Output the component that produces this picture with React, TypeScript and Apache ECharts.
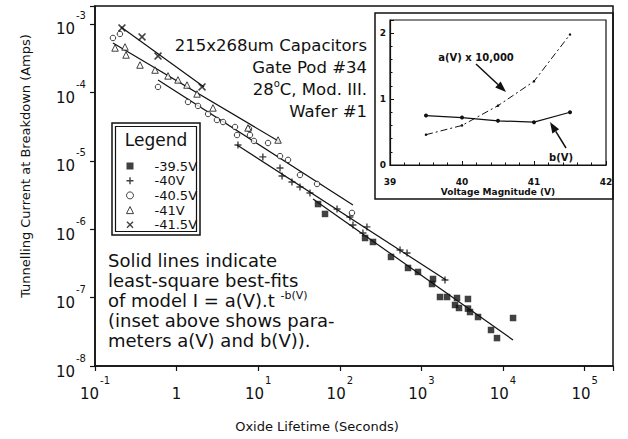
import React, { useEffect, useRef } from "react";
import * as echarts from "echarts";

const FONT = '"DejaVu Sans", "Noto Sans", sans-serif';
const INK = "#111";

type Pt = [number, number];

// Oxide lifetime (s) vs. tunnelling current at breakdown (A), one list per gate voltage
const pts395: Pt[] = [
  [54.1, 2.33e-6], [65.9, 1.67e-6], [204, 7.43e-7], [255, 6.5e-7], [424, 3.93e-7],
  [685, 2.71e-7], [908, 2.37e-7], [1387, 1.87e-7], [1349, 1.58e-7], [1690, 1.02e-7],
  [2061, 1.02e-7], [2730, 9.87e-8], [2582, 7.8e-8], [2890, 7.05e-8], [3720, 9.54e-8],
  [3720, 6.9e-8], [3945, 6.15e-8], [4940, 5.2e-8], [7130, 3.36e-8], [8440, 2.56e-8],
  [13270, 5.03e-8],
];
const pts40: Pt[] = [
  [5.65, 1.7e-5], [11.4, 1.14e-5], [18.5, 7.85e-6], [19.6, 6.0e-6], [25.9, 4.9e-6],
  [32.5, 4.14e-6], [43.1, 3.38e-6], [92.5, 1.97e-6], [133, 1.51e-6], [145, 1.15e-6],
  [215, 1.08e-6], [192, 8.79e-7], [547, 4.97e-7], [667, 4.49e-7], [1945, 1.81e-7],
];
const pts405: Pt[] = [
  [0.166, 6.24e-4], [0.202, 7.14e-4], [0.592, 1.2e-4], [1.38, 7.24e-5], [1.83, 6.33e-5],
  [2.43, 4.83e-5], [3.12, 3.95e-5], [3.71, 3.69e-5], [5.2, 3.12e-5], [5.5, 2.38e-5],
  [7.71, 2.92e-5], [7.93, 2.38e-5], [8.87, 1.95e-5], [13.2, 1.82e-5], [18.5, 1.17e-5],
  [23.2, 1.03e-5], [32.5, 6.2e-6], [52.6, 4.58e-6], [141, 1.73e-6],
];
const pts41: Pt[] = [
  [0.176, 4.46e-4], [0.233, 4.61e-4], [0.24, 3.52e-4], [0.356, 2.51e-4], [0.544, 2.12e-4],
  [0.785, 1.74e-4], [1.04, 1.52e-4], [1.34, 1.28e-4], [1.78, 9.48e-5], [2.79, 5.92e-5],
  [7.5, 3.02e-5], [17.5, 2.01e-5],
];
const pts415: Pt[] = [
  [0.214, 8.75e-4], [0.377, 6.46e-4], [0.592, 3.4e-4], [2.05, 1.2e-4],
];

// End points of the least-square power-law fits I = a(V).t^-b(V)
const fit395: Pt[] = [[47.0, 2.77e-6], [13270, 2.4e-8]];
const fit40: Pt[] = [[5.5, 1.7e-5], [2004, 1.81e-7]];
const fit405: Pt[] = [[0.592, 1.52e-4], [145, 2.26e-6]];
const fit41: Pt[] = [[0.166, 5.27e-4], [18.5, 1.88e-5]];
const fit415: Pt[] = [[0.208, 9.04e-4], [2.17, 1.2e-4]];

const seriesNames = ["-39.5V", "-40V", "-40.5V", "-41V", "-41.5V"];

// Inset: fit parameters against voltage magnitude
const voltages = [39.5, 40, 40.5, 41, 41.5];
const aTimes10k = [0.46, 0.6, 0.9, 1.27, 1.98];
const bExponent = [0.75, 0.72, 0.67, 0.65, 0.8];

const infoLines = ["215x268um Capacitors", "Gate Pod #34", "28{s|o}C, Mod. III.", "Wafer #1"];
const noteLines = [
  "Solid lines indicate",
  "least-square best-fits",
  "of model I = a(V).t {s|-b(V)}",
  "(inset above shows para-",
  "meters a(V) and b(V)).",
];

const PLUS = "path://M4,0H6V4H10V6H6V10H4V6H0V4H4Z";
const CROSS = "path://M1.4,0L5,3.6L8.6,0L10,1.4L6.4,5L10,8.6L8.6,10L5,6.4L1.4,10L0,8.6L3.6,5L0,1.4Z";

const groups = [
  { name: seriesNames[0], data: pts395, fit: fit395, symbol: "rect", size: 6.5, open: false },
  { name: seriesNames[1], data: pts40, fit: fit40, symbol: PLUS, size: 7, open: false },
  { name: seriesNames[2], data: pts405, fit: fit405, symbol: "circle", size: 5.5, open: true },
  { name: seriesNames[3], data: pts41, fit: fit41, symbol: "triangle", size: 6.5, open: true },
  { name: seriesNames[4], data: pts415, fit: fit415, symbol: CROSS, size: 8, open: false },
];

// decade labels: "10" with a raised exponent; a tall blank token sets the line box
const powLabel = (v: number) => {
  const e = Math.log10(v);
  const r = Math.round(e);
  if (Math.abs(e - r) > 1e-6) return "";
  if (r === 0) return "{sp| }{b|1}";
  return `{sp| }{b|10}{e|${r}}`;
};

const powRich = {
  sp: { fontSize: 1, lineHeight: 26, width: 0 },
  b: { fontSize: 15, fontFamily: FONT, color: INK, lineHeight: 15, verticalAlign: "bottom" },
  e: { fontSize: 10, fontFamily: FONT, color: INK, lineHeight: 10, verticalAlign: "top", padding: [0, 0, 0, 1] },
};

const intLabel = (v: number) => (Math.abs(v - Math.round(v)) < 1e-6 ? String(Math.round(v)) : "");

const arrowHead = (tail: Pt, tip: Pt, len: number, half: number) => {
  const dx = tip[0] - tail[0];
  const dy = tip[1] - tail[1];
  const d = Math.hypot(dx, dy);
  const ux = dx / d, uy = dy / d;
  const bx = tip[0] - ux * len, by = tip[1] - uy * len;
  return {
    line: [tail[0], tail[1], bx, by],
    head: [tip, [bx - uy * half, by + ux * half], [bx + uy * half, by - ux * half]],
  };
};

export default function App() {
  const ref = useRef<HTMLDivElement>(null);

  useEffect(() => {
    if (!ref.current) return;
    const chart = echarts.init(ref.current, null, { renderer: "svg" });

    const arrowA = arrowHead([476, 64], [506, 92], 11, 4);
    const arrowB = arrowHead([566, 148], [550, 122], 11, 4);

    const series: any[] = [];
    groups.forEach((g) => {
      series.push({
        type: "line",
        xAxisIndex: 0,
        yAxisIndex: 0,
        data: g.fit,
        symbol: "none",
        silent: true,
        lineStyle: { color: INK, width: 1.2 },
        z: 2,
      });
    });
    groups.forEach((g) => {
      series.push({
        type: "scatter",
        name: g.name,
        xAxisIndex: 0,
        yAxisIndex: 0,
        data: g.data,
        symbol: g.symbol,
        symbolSize: g.size,
        itemStyle: g.open
          ? { color: "#fff", borderColor: INK, borderWidth: 1 }
          : { color: INK, borderWidth: 0 },
        z: 3,
      });
    });
    series.push({
      type: "line",
      xAxisIndex: 1,
      yAxisIndex: 1,
      data: voltages.map((v, i) => [v, aTimes10k[i]]),
      symbol: "circle",
      symbolSize: 2.5,
      itemStyle: { color: INK },
      lineStyle: { color: INK, width: 1, type: [7, 3, 2, 3] },
      z: 3,
    });
    series.push({
      type: "line",
      xAxisIndex: 1,
      yAxisIndex: 1,
      data: voltages.map((v, i) => [v, bExponent[i]]),
      symbol: "circle",
      symbolSize: 4,
      itemStyle: { color: INK },
      lineStyle: { color: INK, width: 1.2 },
      z: 3,
    });

    const axisBase = {
      axisLine: { lineStyle: { color: INK, width: 1.5 } },
      axisTick: { length: 5, lineStyle: { color: INK, width: 1.2 } },
      splitLine: { show: false },
    };

    chart.setOption({
      animation: false,
      backgroundColor: "#fff",
      grid: [
        { left: 95, top: 6, width: 518, height: 360, show: true, borderColor: INK, borderWidth: 1.5 },
        { left: 390, top: 20, width: 216, height: 145, show: true, borderColor: INK, borderWidth: 1.2 },
      ],
      xAxis: [
        {
          ...axisBase,
          type: "log",
          gridIndex: 0,
          min: 0.1,
          max: 222800,
          axisLabel: { formatter: powLabel, rich: powRich, margin: 9, color: INK },
          name: "Oxide Lifetime (Seconds)",
          nameLocation: "middle",
          nameGap: 54,
          nameTextStyle: { fontFamily: FONT, fontSize: 13, color: INK, padding: [0, 74, 0, 0] },
        },
        {
          type: "value",
          gridIndex: 1,
          min: 39,
          max: 42,
          interval: 1,
          axisLine: { lineStyle: { color: INK, width: 1.2 } },
          axisTick: { inside: true, length: 4, lineStyle: { color: INK } },
          minorTick: { show: true, splitNumber: 5, length: 2.5, lineStyle: { color: INK } },
          splitLine: { show: false },
          axisLabel: { fontFamily: FONT, fontSize: 9, fontWeight: "bold", color: INK, margin: 12 },
          name: "Voltage Magnitude (V)",
          nameLocation: "middle",
          nameGap: 22,
          nameTextStyle: { fontFamily: FONT, fontSize: 9, fontWeight: "bold", color: INK },
        },
      ],
      yAxis: [
        {
          ...axisBase,
          type: "log",
          gridIndex: 0,
          min: 1e-8,
          max: 1.83e-3,
          axisLabel: { formatter: powLabel, rich: powRich, margin: 9, color: INK },
          name: "Tunnelling Current at Breakdown (Amps)",
          nameLocation: "middle",
          nameGap: 63,
          nameTextStyle: { fontFamily: FONT, fontSize: 13, color: INK, padding: [0, 0, 0, 40] },
        },
        {
          type: "value",
          gridIndex: 1,
          min: 0,
          max: 2.2,
          interval: 1,
          axisLine: { lineStyle: { color: INK, width: 1.2 } },
          axisTick: { inside: true, length: 4, lineStyle: { color: INK } },
          minorTick: { show: true, splitNumber: 5, length: 2.5, lineStyle: { color: INK } },
          splitLine: { show: false },
          axisLabel: { formatter: intLabel, fontFamily: FONT, fontSize: 9, fontWeight: "bold", color: INK, margin: 4 },
        },
      ],
      legend: {
        orient: "vertical",
        left: 121,
        top: 154,
        itemWidth: 7,
        itemHeight: 7,
        itemGap: 0.7,
        selectedMode: false,
        data: groups.map((g) => ({
          name: g.name,
          itemStyle: g.open
            ? { color: "#fff", borderColor: INK, borderWidth: 1 }
            : { color: INK, borderColor: INK, borderWidth: 0 },
        })),
        textStyle: { fontFamily: FONT, fontSize: 13, color: INK, lineHeight: 14, padding: [0, 0, 0, 16] },
      },
      series,
      graphic: [
        // legend frame, double ruled
        { type: "rect", z: 50, shape: { x: 112, y: 123, width: 88, height: 112 }, style: { fill: "none", stroke: INK, lineWidth: 1.5 } },
        { type: "rect", z: 50, shape: { x: 115.5, y: 126.5, width: 81, height: 105 }, style: { fill: "none", stroke: INK, lineWidth: 1.2 } },
        {
          type: "text", z: 50, x: 156, y: 140,
          style: { text: "Legend", fontFamily: FONT, fontSize: 17, fill: INK, align: "center", verticalAlign: "middle" },
        },
        // inset frame
        { type: "rect", z: 50, shape: { x: 375, y: 13, width: 238, height: 186 }, style: { fill: "none", stroke: INK, lineWidth: 1.5 } },
        {
          type: "text", z: 50, x: 367, y: 34,
          style: {
            text: infoLines.join("\n"),
            fontFamily: FONT, fontSize: 16.5, lineHeight: 22, fill: INK,
            align: "right", verticalAlign: "top",
            rich: { s: { fontFamily: FONT, fontSize: 10, lineHeight: 10, verticalAlign: "top", fill: INK } },
          },
        },
        {
          type: "text", z: 50, x: 108, y: 250,
          style: {
            text: noteLines.join("\n"),
            fontFamily: FONT, fontSize: 18, lineHeight: 20, fill: INK,
            align: "left", verticalAlign: "top",
            rich: { s: { fontFamily: FONT, fontSize: 11, lineHeight: 11, verticalAlign: "top", fill: INK } },
          },
        },
        {
          type: "text", z: 50, x: 476, y: 57,
          style: { text: "a(V) x 10,000", fontFamily: FONT, fontSize: 10, fontWeight: "bold", fill: INK, align: "center", verticalAlign: "middle" },
        },
        {
          type: "text", z: 50, x: 561, y: 157,
          style: { text: "b(V)", fontFamily: FONT, fontSize: 10, fontWeight: "bold", fill: INK, align: "center", verticalAlign: "middle" },
        },
        {
          type: "line", z: 50,
          shape: { x1: arrowA.line[0], y1: arrowA.line[1], x2: arrowA.line[2], y2: arrowA.line[3] },
          style: { stroke: INK, lineWidth: 1.5 },
        },
        { type: "polygon", z: 50, shape: { points: arrowA.head }, style: { fill: INK } },
        {
          type: "line", z: 50,
          shape: { x1: arrowB.line[0], y1: arrowB.line[1], x2: arrowB.line[2], y2: arrowB.line[3] },
          style: { stroke: INK, lineWidth: 1.5 },
        },
        { type: "polygon", z: 50, shape: { points: arrowB.head }, style: { fill: INK } },
      ],
    });

    return () => chart.dispose();
  }, []);

  return <div ref={ref} style={{ position: "absolute", left: 0, top: 0, width: 628, height: 439 }} />;
}
